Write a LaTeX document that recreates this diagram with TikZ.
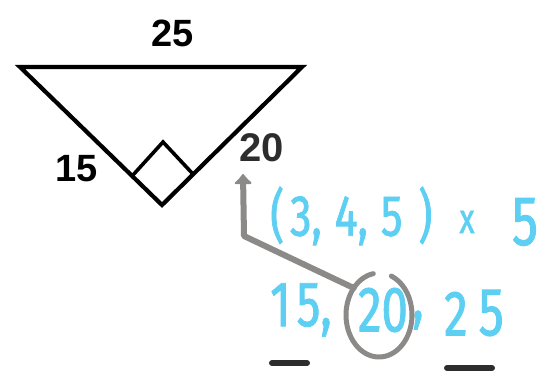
\documentclass[tikz,border=0pt]{standalone}
\usepackage{fontspec}
\setmainfont{Liberation Sans}
\newfontfamily\hand[FakeStretch=0.74,FakeBold=1.3]{Fira Sans}
\usetikzlibrary{arrows.meta,calc}
\definecolor{handblue}{RGB}{93,207,242}
\definecolor{pencil}{RGB}{140,138,136}
\definecolor{ink}{RGB}{45,45,45}
\tikzset{
  tri/.style={line width=4.2pt, line join=miter, draw=black},
  sq/.style={line width=3.6pt, line join=miter, draw=black},
  printlab/.style={font=\fontsize{38}{38}\selectfont\bfseries, text=black, inner sep=0pt},
  inklab/.style={font=\fontsize{40}{40}\selectfont\bfseries, text=ink, inner sep=0pt},
  bluetxt/.style={font=\hand\fontsize{64}{64}\selectfont, text=handblue, inner sep=0pt},
  pencilpath/.style={draw=pencil, line width=6pt, line cap=round, line join=round},
  underl/.style={draw=ink, line width=6pt, line cap=round}
}
\begin{document}
\begin{tikzpicture}[x=1pt,y=-1pt]
\useasboundingbox (0,0) rectangle (556,381);
% triangle
\coordinate (A) at (20,67);
\coordinate (B) at (302,67);
\coordinate (C) at (162,205);
\coordinate (SL) at (133,175);
\coordinate (ST) at (163,142);
\coordinate (SR) at (192,173);
\draw[tri] (A) -- (B) -- (C) -- cycle;
\draw[sq] (SL) -- (ST) -- (SR);
% labels
\node[printlab] (l25) at (173,33) {25};
\node[printlab] (l15) at (77,169) {15};
\node[inklab] (l20) at (262,148) {20};
% blue handwriting
\node[bluetxt, anchor=west] (trip) at (270,216) {\fontsize{58}{58}\selectfont(\hspace{6pt}3,\hspace{13pt}4,\hspace{13pt}5\hspace{16pt})};
\node[bluetxt] (times) at (467,222) {\fontsize{42}{42}\selectfont x};
\node[bluetxt] (five) at (525,222) {\fontsize{70}{70}\selectfont 5};
\node[bluetxt, anchor=west] (n15) at (270,310) {1\hspace{6pt}5,};
\node[bluetxt] (n20) at (383,310) {20};
\node[bluetxt] (ncomma) at (418,320) {,};
\node[bluetxt] (n25) at (474,313) {2\hspace{11pt}{\fontsize{68}{68}\selectfont 5}};
% circle and arrow
\coordinate (circc) at (379,315);
\draw[pencilpath, line width=5pt] ($(circc)+(100:33pt and 42pt)$) arc[start angle=100, end angle=428, x radius=33pt, y radius=42pt];
\coordinate (astart) at ($(circc)+(140:33pt and 42pt)$);
\coordinate (abend) at (244,236);
\coordinate (atip) at (243,174);
\draw[pencilpath, -{Latex[length=11pt,width=22pt,round]}] (astart) -- (abend) -- (atip);
% underlines
\draw[underl] (272,363) -- (307,363);
\draw[underl] (447,368) -- (492,368);
\end{tikzpicture}
\end{document}
